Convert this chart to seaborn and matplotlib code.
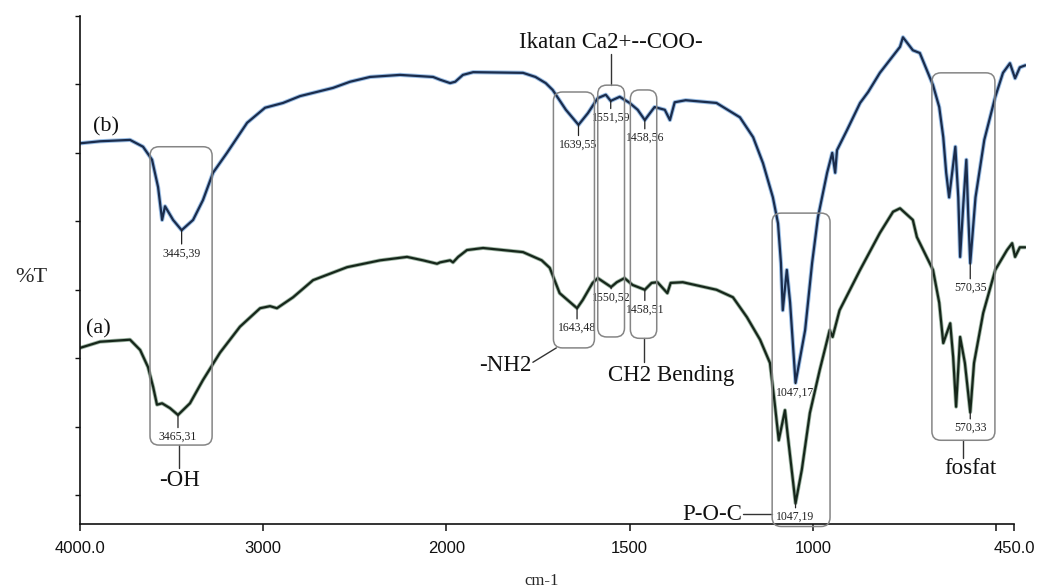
import numpy as np
import pandas as pd
import matplotlib
matplotlib.use("Agg")
import matplotlib.pyplot as plt
from matplotlib.patches import FancyBboxPatch
from matplotlib.transforms import IdentityTransform
import seaborn as sns

# ---------------------------------------------------------------------------
# FTIR spectra: wavenumber (cm-1) and transmittance (%T, arbitrary offset)
# ---------------------------------------------------------------------------
wn_b = [4000, 3890, 3727, 3656, 3607, 3574, 3552, 3536, 3492, 3445.39, 3383, 3329,
        3274, 3198, 3088, 2990, 2892, 2799, 2619, 2526, 2417, 2253, 2073, 2035,
        1990, 1976, 1955, 1927, 1791, 1757, 1729, 1710, 1674, 1639.55, 1614, 1587,
        1565, 1551.59, 1527, 1500, 1478, 1458.56, 1432, 1404, 1390, 1377, 1347,
        1263, 1199, 1163, 1136, 1109, 1095, 1087, 1082, 1071, 1062, 1047.17, 1021,
        1002, 986, 961, 947, 939, 934, 907, 871, 849, 817, 762, 754, 727, 708, 672,
        655, 644, 636, 628, 611, 603, 598, 589, 581, 576, 570.35, 556, 532, 502,
        481, 462, 448, 435, 420]
t_b = [61.4, 61.7, 61.9, 60.9, 59.0, 55.0, 50.2, 52.2, 50.2, 48.7, 50.2, 53.1,
       57.1, 60.0, 64.4, 66.6, 67.3, 68.3, 69.5, 70.4, 71.1, 71.4, 71.1, 70.7,
       70.2, 70.4, 71.4, 71.8, 71.7, 71.1, 70.2, 69.2, 66.3, 64.1, 65.8, 68.0,
       68.5, 67.6, 68.2, 67.3, 66.3, 64.8, 66.7, 66.3, 64.8, 67.4, 67.7,
       67.3, 65.2, 62.3, 58.5, 53.5, 49.7, 43.9, 37.0, 42.9, 38.1, 26.4, 34.1,
       43.9, 50.6, 57.1, 60.0, 57.1, 60.4, 63.3, 67.3, 68.9, 71.7, 75.5, 76.9, 75.0, 74.6, 69.9,
       66.7, 62.3, 57.1, 53.5, 60.9, 53.5, 44.8, 52.7, 59.0, 51.2, 43.9, 53.5, 61.9, 68.2,
       71.7, 73.1, 70.9, 72.5, 72.8]

wn_a = [4000, 3891, 3727, 3672, 3629, 3601, 3580, 3552, 3509, 3465.31, 3400, 3329,
        3236, 3127, 3017, 2963, 2925, 2837, 2728, 2542, 2362, 2215, 2128, 2051,
        2035, 1990, 1982, 1968, 1944, 1900, 1791, 1740, 1718, 1691, 1643.48, 1628,
        1601, 1587, 1550.52, 1535, 1514, 1492, 1458.51, 1440, 1424, 1397, 1388,
        1355, 1263, 1218, 1180, 1144, 1117, 1104, 1093, 1076, 1068, 1047.19, 1030,
        1008, 981, 954, 946, 927, 871, 817, 781, 762, 727, 716, 672, 655, 644, 625,
        617, 609, 598, 585, 570.33, 560, 535, 502, 470, 456, 448, 435, 420]
t_a = [31.5, 32.4, 32.7, 31.2, 28.7, 25.8, 23.2, 23.4, 22.7, 21.7, 23.4, 26.8,
       30.8, 34.6, 37.3, 37.6, 37.3, 38.9, 41.4, 43.3, 44.3, 44.8, 44.3, 43.8,
       44.0, 44.3, 44.0, 44.8, 45.8, 46.1, 45.5, 44.3, 43.2, 39.5, 37.3, 38.5,
       41.0, 41.7, 40.4, 41.1, 41.7, 40.7, 40.0, 41.0, 41.1, 39.5, 41.0,
       41.1, 40.0, 38.9, 36.0, 32.7, 29.3, 23.4, 18.0, 22.4, 18.5, 8.8, 13.7,
       22.0, 28.3, 34.1, 33.1, 37.0, 42.9, 48.3, 51.4, 51.9, 50.2, 47.7, 42.9, 38.1, 32.2, 35.1,
       30.2, 22.9, 33.1, 29.3, 22.1, 29.3, 36.6, 42.9, 45.8, 46.8, 44.8, 46.2, 46.2]

# Labelled band positions
peaks_b_wn = [3445.39, 1639.55, 1551.59, 1458.56, 1047.17, 570.35]
peaks_b_lbl = ["3445,39", "1639,55", "1551,59", "1458,56", "1047,17", "570,35"]
peaks_a_wn = [3465.31, 1643.48, 1550.52, 1458.51, 1047.19, 570.33]
peaks_a_lbl = ["3465,31", "1643,48", "1550,52", "1458,51", "1047,19", "570,33"]

# Band-assignment boxes: (wn high, wn low, %T low, %T high)
box_names = ["-OH", "-NH2", "Ikatan Ca2+--COO-", "CH2 Bending", "P-O-C", "fosfat"]
box_wn_hi = [3618, 1708, 1587, 1498, 1111, 675]
box_wn_lo = [3279, 1596, 1514, 1426, 953, 503]
box_t_lo = [17.3, 31.5, 33.1, 32.9, 5.4, 18.0]
box_t_hi = [60.9, 68.9, 69.9, 69.2, 51.2, 71.7]

x_ticks = [4000, 3000, 2000, 1500, 1000, 500, 450]
x_tick_labels = ["4000.0", "3000", "2000", "1500", "1000", "", "450.0"]
y_ticks = [10, 20, 30, 40, 50, 60, 70, 80]

# ---------------------------------------------------------------------------
sns.set_style("ticks")
plt.rcParams["font.family"] = ["Liberation Serif", "DejaVu Serif"]

fig = plt.figure(figsize=(10.38, 5.88), dpi=100)
ax = fig.add_axes([0.0771, 0.1088, 0.9114, 0.8639])


# Spectrometer-style axis: the region below 2000 cm-1 is expanded two-fold
def _fwd(w):
    w = np.asarray(w, dtype=float)
    return np.where(w >= 2000, w, 2 * w - 2000)


def _inv(t):
    t = np.asarray(t, dtype=float)
    return np.where(t >= 2000, t, (t + 2000) / 2)


ax.set_xscale("function", functions=(_fwd, _inv))

df_b = pd.DataFrame({"wn": wn_b, "T": t_b})
df_a = pd.DataFrame({"wn": wn_a, "T": t_a})

# sample (b): navy trace with a light blue fringe
sns.lineplot(data=df_b, x="wn", y="T", ax=ax, sort=False, estimator=None,
             color="#4a8ad0", lw=3.0, alpha=0.55)
sns.lineplot(data=df_b, x="wn", y="T", ax=ax, sort=False, estimator=None,
             color="#1a2c4c", lw=1.6)
# sample (a): dark green trace
sns.lineplot(data=df_a, x="wn", y="T", ax=ax, sort=False, estimator=None,
             color="#3f6d4b", lw=2.8, alpha=0.5)
sns.lineplot(data=df_a, x="wn", y="T", ax=ax, sort=False, estimator=None,
             color="#16261a", lw=1.6)

ax.set_xlim(4000, 418)
ax.set_ylim(5.76, 80)

for side in ("top", "right"):
    ax.spines[side].set_visible(False)
for side in ("left", "bottom"):
    ax.spines[side].set_linewidth(1.2)
    ax.spines[side].set_color("#111111")
ax.spines["bottom"].set_bounds(450, 4000)

ax.set_xticks(x_ticks)
ax.set_xticklabels(x_tick_labels, fontsize=12,
                   fontfamily=["Liberation Sans Narrow", "Liberation Sans", "DejaVu Sans"])
ax.set_yticks(y_ticks)
ax.set_yticklabels([])
ax.tick_params(axis="x", direction="out", length=5, width=1.1, pad=7, colors="#111111")
ax.tick_params(axis="y", direction="out", length=3.5, width=1.0, colors="#111111")
ax.minorticks_off()

ax.set_xlabel("cm-1", fontsize=12)
ax.xaxis.set_label_coords(0.488, -0.097)
ax.set_ylabel("%T", fontsize=16, rotation=0, va="center", ha="center")
ax.yaxis.set_label_coords(-0.052, 0.486)

# peak labels with short leader lines
drop_b = [16.6, 14.4, 12.2, 13.0, 7.2, 18.0]
drop_a = [15.8, 14.4, 8.0, 14.4, 10.0, 11.5]
t_lookup_b = dict(zip(wn_b, t_b))
t_lookup_a = dict(zip(wn_a, t_a))
for w, lbl, d in zip(peaks_b_wn, peaks_b_lbl, drop_b):
    ax.annotate(lbl, xy=(w, t_lookup_b[w]), xytext=(0, -d), textcoords="offset points",
                ha="center", va="center", fontsize=8.5, color="#222222",
                arrowprops=dict(arrowstyle="-", color="#222222", lw=0.9,
                                shrinkA=0, shrinkB=0))
for w, lbl, d in zip(peaks_a_wn, peaks_a_lbl, drop_a):
    ax.annotate(lbl, xy=(w, t_lookup_a[w]), xytext=(0, -d), textcoords="offset points",
                ha="center", va="center", fontsize=8.5, color="#222222",
                arrowprops=dict(arrowstyle="-", color="#222222", lw=0.9,
                                shrinkA=0, shrinkB=0))

# rounded boxes drawn in pixel space so the corners stay circular
for hi, lo, tl, th in zip(box_wn_hi, box_wn_lo, box_t_lo, box_t_hi):
    x0, y0 = ax.transData.transform((hi, tl))
    x1, y1 = ax.transData.transform((lo, th))
    patch = FancyBboxPatch((x0, y0), x1 - x0, y1 - y0,
                           boxstyle="round,pad=0,rounding_size=9",
                           transform=IdentityTransform(), fill=False,
                           ec="#858585", lw=1.1)
    fig.add_artist(patch)

lead = dict(color="#333333", lw=1.0, clip_on=False)
big = dict(fontsize=16.5, color="#111111")

# -OH
ax.plot([3460, 3460], [box_t_lo[0], 13.9], **lead)
ax.text(3459, 12.1, box_names[0], ha="center", va="center", **big)
# -NH2
ax.plot([1700, 1764], [box_t_lo[1], 29.4], **lead)
ax.text(1768, 28.9, box_names[1], ha="right", va="center", **big)
# Ca2+ carboxylate
ca_mid = (box_wn_hi[2] + box_wn_lo[2]) / 2
ax.plot([ca_mid, ca_mid], [box_t_hi[2], 74.4], **lead)
ax.text(ca_mid, 76.1, box_names[2], ha="center", va="center", **big)
# CH2 bending
ch_mid = (box_wn_hi[3] + box_wn_lo[3]) / 2
ax.plot([ch_mid, ch_mid], [box_t_lo[3], 29.4], **lead)
ax.text(1387, 27.5, box_names[3], ha="center", va="center", **big)
# P-O-C
ax.plot([box_wn_hi[4], 1190], [7.2, 7.2], **lead)
ax.text(1194, 7.2, box_names[4], ha="right", va="center", **big)
# phosphate
fo_mid = (box_wn_hi[5] + box_wn_lo[5]) / 2
ax.plot([fo_mid, fo_mid], [box_t_lo[5], 15.4], **lead)
ax.text(570, 13.9, box_names[5], ha="center", va="center", **big)

# sample tags
ax.text(3858, 63.8, "(b)", ha="center", va="center", fontsize=16, color="#111111")
ax.text(3902, 34.3, "(a)", ha="center", va="center", fontsize=16, color="#111111")

fig.savefig("out.png", dpi=100)
